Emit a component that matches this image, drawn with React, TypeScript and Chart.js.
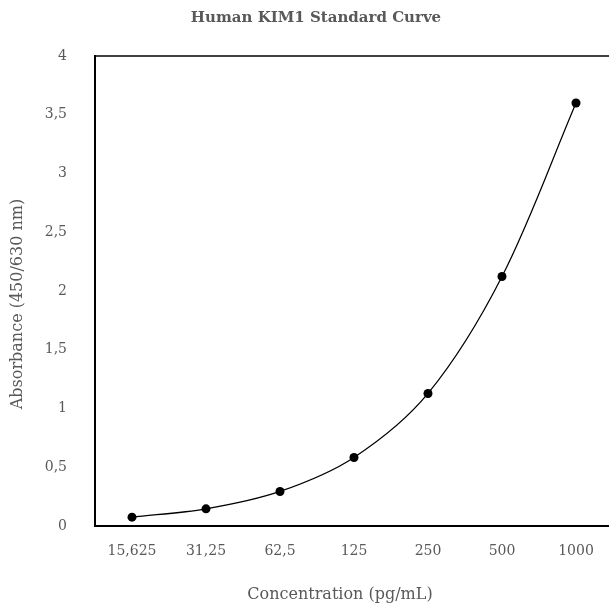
import React, { useEffect, useRef } from 'react';
import { Chart, registerables } from 'chart.js';

Chart.register(...registerables);

const categories = ['15,625', '31,25', '62,5', '125', '250', '500', '1000'];
const absorbance = [0.075, 0.146, 0.294, 0.583, 1.128, 2.123, 3.6];
const yMin = 0;
const yMax = 4;
const yStep = 0.5;

const chartTitle = 'Human KIM1 Standard Curve';
const xAxisTitle = 'Concentration (pg/mL)';
const yAxisTitle = 'Absorbance (450/630 nm)';

const FONT = '"DejaVu Serif", "Liberation Serif", serif';
const TEXT = '#595959';

const decor = {
  id: 'decor',
  beforeDatasetsDraw(chart: any) {
    const { ctx, chartArea } = chart;
    const { left, right, top, bottom } = chartArea;
    ctx.save();
    ctx.lineWidth = 2;
    ctx.strokeStyle = '#404040';
    ctx.beginPath();
    ctx.moveTo(left, top);
    ctx.lineTo(right, top);
    ctx.lineTo(right, bottom);
    ctx.stroke();
    ctx.strokeStyle = '#000000';
    ctx.beginPath();
    ctx.moveTo(left, top - 1);
    ctx.lineTo(left, bottom);
    ctx.lineTo(right + 1, bottom);
    ctx.stroke();
    ctx.restore();
  },
  afterDraw(chart: any) {
    const { ctx, chartArea } = chart;
    const { left, right, top, bottom } = chartArea;
    ctx.save();
    ctx.fillStyle = TEXT;
    ctx.textAlign = 'center';
    ctx.textBaseline = 'middle';
    ctx.font = `bold 15px ${FONT}`;
    ctx.fillText(chartTitle, left + 221, top - 38);
    ctx.font = `16px ${FONT}`;
    ctx.fillText(xAxisTitle, (left + right) / 2 - 14, bottom + 69);
    ctx.translate(18, (top + bottom) / 2 + 13);
    ctx.rotate(-Math.PI / 2);
    ctx.fillText(yAxisTitle, 0, 0);
    ctx.restore();
  },
};

export default function App() {
  const ref = useRef<HTMLCanvasElement | null>(null);

  useEffect(() => {
    if (!ref.current) return;
    const chart = new Chart(ref.current, {
      type: 'line',
      data: {
        labels: categories,
        datasets: [
          {
            data: absorbance,
            borderColor: '#000000',
            borderWidth: 1.25,
            tension: 0.33,
            pointRadius: 4.5,
            pointBackgroundColor: '#000000',
            pointBorderWidth: 0,
            fill: false,
          },
        ],
      },
      options: {
        animation: false,
        responsive: false,
        devicePixelRatio: 1,
        layout: { padding: { top: 56, right: 7, left: 0, bottom: 0 } },
        plugins: {
          legend: { display: false },
          tooltip: { enabled: false },
          title: { display: false },
        },
        scales: {
          x: {
            type: 'category',
            offset: true,
            grid: { display: false, drawTicks: false },
            border: { display: false },
            ticks: {
              color: TEXT,
              font: { family: FONT, size: 14 },
              padding: 17,
              maxRotation: 0,
              autoSkip: false,
            },
            afterFit: (s: any) => {
              s.height = 86;
            },
          },
          y: {
            min: yMin,
            max: yMax,
            grid: { display: false, drawTicks: false },
            border: { display: false },
            ticks: {
              stepSize: yStep,
              color: TEXT,
              font: { family: FONT, size: 14 },
              padding: 28,
              callback: (v: any) => String(Number(v)).replace('.', ','),
            },
            afterFit: (s: any) => {
              s.width = 95;
            },
          },
        },
      },
      plugins: [decor],
    });
    return () => chart.destroy();
  }, []);

  return (
    <div
      style={{
        position: 'fixed',
        left: 0,
        top: 0,
        width: 609,
        height: 612,
        overflow: 'hidden',
        background: '#ffffff',
      }}
    >
      <canvas ref={ref} width={620} height={612} style={{ width: 620, height: 612, display: 'block' }} />
    </div>
  );
}
